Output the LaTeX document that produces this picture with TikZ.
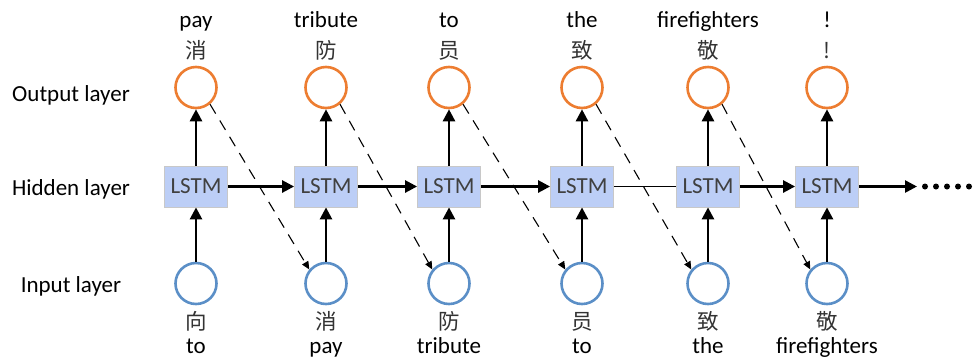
\documentclass[tikz,border=0pt]{standalone}
\usepackage{fontspec}
\setmainfont{Carlito}
\newfontfamily\cjk{Noto Sans CJK SC}
\usetikzlibrary{arrows.meta}
\definecolor{outorange}{HTML}{ED7D31}
\definecolor{inblue}{HTML}{5B8FC7}
\definecolor{lstmfill}{HTML}{BCCEF6}
\definecolor{lstmborder}{HTML}{C8C8C8}
\definecolor{lstmtext}{HTML}{404040}
\definecolor{cjkgray}{HTML}{333333}
\begin{document}
\begin{tikzpicture}[x=1pt,y=-1pt,font=\fontsize{23}{27}\selectfont]
\tikzset{
  outnode/.style={circle,draw=outorange,line width=2.6pt,minimum size=41pt,inner sep=0pt},
  innode/.style={circle,draw=inblue,line width=2.6pt,minimum size=41pt,inner sep=0pt},
  lstmbox/.style={rectangle,fill=lstmfill,draw=lstmborder,line width=0.8pt,minimum width=63pt,minimum height=41pt,text=lstmtext,inner sep=0pt},
  thickarrow/.style={line width=2.6pt,-{Triangle[length=12pt,width=12pt]}},
  thinline/.style={line width=0.8pt},
  dasharrow/.style={line width=1.1pt,dash pattern=on 11pt off 8pt,-{Triangle[length=8pt,width=7pt]}},
  enword/.style={anchor=base,inner sep=0pt},
  cnword/.style={anchor=base,inner sep=0pt,font=\cjk\fontsize{21.5}{25}\selectfont,text=cjkgray},
  layerlabel/.style={anchor=base,inner sep=0pt},
  dot/.style={circle,fill=black,inner sep=0pt,minimum size=6pt}
}
\fill[white] (0,0) rectangle (975,360);
\useasboundingbox (0,0) rectangle (975,360);

% layer labels
\node[layerlabel] (lo) at (71,101.5) {Output layer};
\node[layerlabel] (lh) at (71,195) {Hidden layer};
\node[layerlabel] (li) at (71,292) {Input layer};

% columns
\foreach \n/\x in {1/196,2/326,3/449,4/582,5/708,6/827}{
  \node[outnode] (o\n) at (\x,87.5) {};
  \node[lstmbox] (h\n) at (\x,186.5) {LSTM};
  \node[innode] (i\n) at (\x,283.5) {};
  \draw[thickarrow] (i\n) -- (h\n);
  \draw[thickarrow] (h\n) -- (o\n);
}

% top words
\node[enword] (te1) at (196,27) {pay};
\node[enword] (te2) at (326,27) {tribute};
\node[enword] (te3) at (449,27) {to};
\node[enword] (te4) at (582,27) {the};
\node[enword] (te5) at (708,27) {firefighters};
\node[enword] (te6) at (827,27) {!};
\node[cnword] (tc1) at (196,58.3) {消};
\node[cnword] (tc2) at (326,58.3) {防};
\node[cnword] (tc3) at (449,58.3) {员};
\node[cnword] (tc4) at (582,58.3) {致};
\node[cnword] (tc5) at (708,58.3) {敬};
\node[cnword] (tc6) at (827,58.3) {!};

% bottom words
\node[cnword] (bc1) at (196,329.3) {向};
\node[cnword] (bc2) at (326,329.3) {消};
\node[cnword] (bc3) at (449,329.3) {防};
\node[cnword] (bc4) at (582,329.3) {员};
\node[cnword] (bc5) at (708,329.3) {致};
\node[cnword] (bc6) at (827,329.3) {敬};
\node[enword] (be1) at (196,353) {to};
\node[enword] (be2) at (326,353) {pay};
\node[enword] (be3) at (449,353) {tribute};
\node[enword] (be4) at (582,353) {to};
\node[enword] (be5) at (708,353) {the};
\node[enword] (be6) at (827,353) {firefighters};

% recurrent connections
\draw[thickarrow] (h1) -- (h2);
\draw[thickarrow] (h2) -- (h3);
\draw[thickarrow] (h3) -- (h4);
\draw[thinline] (h4) -- (h5);
\draw[thickarrow] (h5) -- (h6);
\coordinate (cont) at (917,186.5);
\draw[thickarrow] (h6) -- (cont);
\foreach \k in {0,...,4}{
  \node[dot] (d\k) at (925+\k*11,186.5) {};
}

% feedback of outputs to next inputs
\draw[dasharrow] (o1.-50) -- (i2.140);
\draw[dasharrow] (o2.-50) -- (i3.140);
\draw[dasharrow] (o3.-50) -- (i4.140);
\draw[dasharrow] (o4.-50) -- (i5.140);
\draw[dasharrow] (o5.-50) -- (i6.140);
\end{tikzpicture}
\end{document}
